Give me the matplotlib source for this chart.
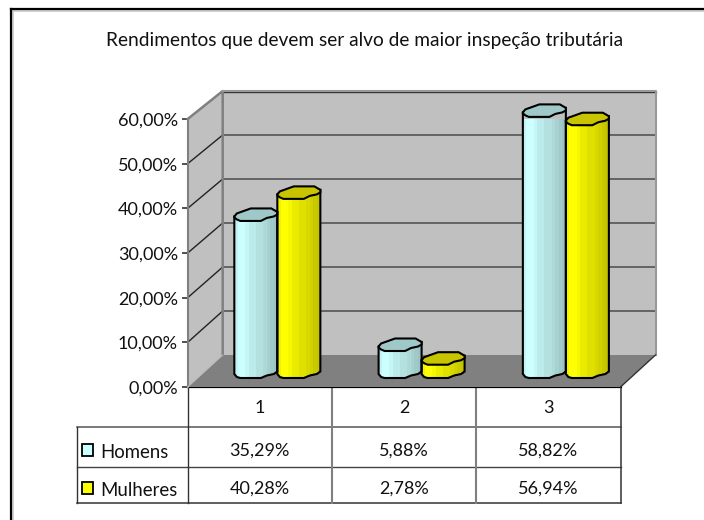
import numpy as np
import matplotlib
matplotlib.use('Agg')
import matplotlib.pyplot as plt
from matplotlib.patches import Polygon

plt.rcParams['font.family'] = ['Lato', 'DejaVu Sans']

# dados
titulo = 'Rendimentos que devem ser alvo de maior inspeção tributária'
categorias = ['1', '2', '3']
series = ['Homens', 'Mulheres']
homens = [35.29, 5.88, 58.82]
mulheres = [40.28, 2.78, 56.94]
ticks = [0, 10, 20, 30, 40, 50, 60]

W, H = 704, 520
X0, X1 = 187.7, 620.5   # plano frontal em pixels
Y0, Y60 = 387, 119
DX, DY = 35, 32         # profundidade 3D
L_LIN = [76.5, 427, 467, 503]

fig = plt.figure(figsize=(W / 100, H / 100), dpi=100)

# camada de fundo em pixels: moldura e tabela
bg = fig.add_axes([0, 0, 1, 1], zorder=0)
bg.set_xlim(0, W)
bg.set_ylim(H, 0)
bg.axis('off')
bg.plot([12.5, 12.5], [11, H], color='#c8c8c8', lw=1.2)
bg.plot([13, W], [10.8, 10.8], color='#c8c8c8', lw=1.2)
bg.plot([11.3, 11.3], [9, H], color='black', lw=1.6)
bg.plot([11, W], [9.3, 9.3], color='black', lw=1.6)

ax = fig.add_axes([X0 / W, 1 - Y0 / H, (X1 - X0) / W, (Y0 - Y60) / H], zorder=1)
ax.set_xlim(0, len(categorias))
ax.set_ylim(0, 60)
ax.patch.set_visible(False)
for s in ax.spines.values():
    s.set_visible(False)
ax.set_xticks([])
ax.set_yticks(ticks)
ax.set_yticklabels(['%d,00%%' % t for t in ticks], fontsize=13, color='#111111')
ax.tick_params(axis='y', length=4, width=1.2, color='#333333', pad=3)

ux = len(categorias) / (X1 - X0)   # unidade de dado por pixel
uy = 60 / (Y0 - Y60)
ddx, ddy = DX * ux, DY * uy
topo = 60 + ddy - 60 * 0.015  # topo da parede


def poly(pts, **kw):
    p = Polygon(pts, closed=True, clip_on=False, **kw)
    ax.add_patch(p)
    return p


# paredes e chão
wx0, wx1 = ddx, len(categorias) + ddx
poly([(0, 0), (wx0, ddy), (wx0, topo), (0, 60)], fc='#c0c0c0', ec='none', zorder=1)
poly([(wx0, ddy), (wx1, ddy), (wx1, topo), (wx0, topo)], fc='#c0c0c0', ec='none', zorder=1)
poly([(0, 0), (wx0, ddy), (wx1, ddy), (len(categorias), 0)], fc='#808080', ec='none', zorder=2)
for t in ticks[1:5 + 1]:
    yb = ddy + t * (topo - ddy) / 60
    ax.plot([0, wx0], [t, yb], color='#222222', lw=1, zorder=3, clip_on=False)
    ax.plot([wx0, wx1], [yb, yb], color='#555555', lw=1.2, zorder=3, clip_on=False)
ax.plot([wx0, wx1], [topo - 0.3, topo - 0.3], color='#333333', lw=1, zorder=3, clip_on=False)
ax.plot([0, wx0, wx0], [60, topo, ddy], color='#808080', lw=1.8, zorder=3, clip_on=False)
ax.plot([0, 0], [0, 60], color='#808080', lw=1.5, zorder=3, clip_on=False)
ax.plot([wx0, wx1, wx1], [topo, topo, ddy], color='#999999', lw=1.5, zorder=3, clip_on=False)
ax.plot([wx1, len(categorias)], [ddy, 0], color='#333333', lw=1, zorder=3, clip_on=False)
ax.plot([0, wx0], [0, ddy], color='#bbbbbb', lw=0.8, zorder=3, clip_on=False)

# cilindros: octógono inclinado (offset em pixels, y para cima)
TAMPA = np.array([(-21.5, -1.5), (-19, 1.5), (-5, 6.5), (15.5, 6.5), (21.5, 3),
                  (21.5, 0.5), (18, -1.5), (11, -3), (5, -6), (-15.5, -6),
                  (-19, -4.5), (-21.5, -2.5)])
FUNDO = np.array([(-21.5, -1.5), (-21.5, -3), (-19, -6), (-15.5, -7), (5, -7),
                  (11, -4.5), (18, -3), (21.5, -0.5), (21.5, 0.5)])
FAIXAS = np.array([0.95, 1.0, 1.0, 0.97, 0.92, 0.92, 0.88, 0.88, 0.85, 0.82, 0.79, 0.77])
BASE_COR = {'Homens': np.array([0.8, 1, 1]), 'Mulheres': np.array([1, 1, 0])}
TOPO_COR = {'Homens': '#9fc8c8', 'Mulheres': '#c8c400'}


def cilindro(xc, v, nome):
    yb = ddy / 2
    yt = yb + v * 0.99
    # corpo
    pts = [(xc + a * ux, yb + b * uy) for a, b in FUNDO]
    pts += [(xc + 21.5 * ux, yt + 0.5 * uy), (xc + 21.5 * ux, yt + 3 * uy),
            (xc - 21.5 * ux, yt - 1.5 * uy)]
    corpo = Polygon(pts, closed=True, fc='none', ec='black', lw=1.5, clip_on=False, zorder=5)
    ax.add_patch(corpo)
    xs = xc + np.linspace(-21.5, 21.5, len(FAIXAS) + 1) * ux
    ys = np.array([yb - 10 * uy, yt + 10 * uy])
    cores = (FAIXAS[:, None] * BASE_COR[nome])[None, :, :]
    m = ax.pcolormesh(xs, ys, cores, shading='flat', zorder=4, clip_on=True, rasterized=True)
    m.set_clip_path(corpo)
    # tampa
    tampa = [(xc + a * ux, yt + b * uy) for a, b in TAMPA]
    poly(tampa, fc=TOPO_COR[nome], ec='black', lw=1.5, zorder=5)


for i, (h, m) in enumerate(zip(homens, mulheres)):
    centro = i + 0.5 + ddx / 2
    cilindro(centro - 21.5 * ux, h, 'Homens')
    cilindro(centro + 21.5 * ux, m, 'Mulheres')

# tabela
colunas = [X0 + k * (X1 - X0) / 3 for k in range(4)]
esq, y1, y2, y3 = L_LIN
bg.plot([X0, X1], [387, 387], color='black', lw=1.6, zorder=5)
bg.plot([esq, X1], [y1, y1], color='#555555', lw=1.1)
bg.plot([esq, X1], [y2, y2], color='#444444', lw=1)
bg.plot([esq, X1], [y3, y3], color='#333333', lw=1.1)
bg.plot([esq, esq], [y1, y3], color='#333333', lw=1)
bg.plot([X0, X0], [387, y3], color='#333333', lw=1)
for c in colunas[1:3]:
    bg.plot([c, c], [387, y3], color='#808080', lw=1.5)
bg.plot([X1, X1], [387, y3], color='#333333', lw=1.1)

fs = 13
for k, c in enumerate(categorias):
    xm = (colunas[k] + colunas[k + 1]) / 2
    bg.text(xm, 408, c, ha='center', va='center', fontsize=fs, color='#111111')
    bg.text(xm, 451, ('%.2f%%' % homens[k]).replace('.', ','), ha='center', va='center', fontsize=fs, color='#111111')
    bg.text(xm, 489, ('%.2f%%' % mulheres[k]).replace('.', ','), ha='center', va='center', fontsize=fs, color='#111111')
for nome, yc, cor in zip(series, [450, 488], ['#ccffff', '#ffff00']):
    bg.add_patch(plt.Rectangle((82, yc - 6), 11, 12, fc=cor, ec='black', lw=1.3))
    bg.text(100, yc + 2, nome, ha='left', va='center', fontsize=13.4, color='#111111')

bg.text(365, 40.5, titulo, ha='center', va='center', fontsize=13.8, color='#111111')

fig.savefig('out.png', dpi=100, facecolor='white')
